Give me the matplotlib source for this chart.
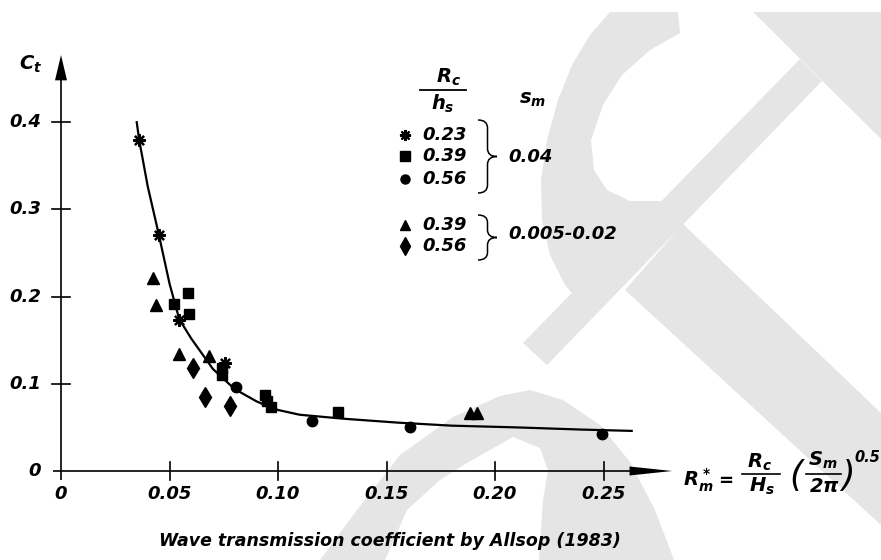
import matplotlib
matplotlib.use("Agg")
import matplotlib.pyplot as plt
from matplotlib.patches import Polygon, PathPatch
from matplotlib.path import Path

plt.rcParams["mathtext.fontset"] = "custom"
plt.rcParams["mathtext.rm"] = "DejaVu Sans:bold:italic"
plt.rcParams["mathtext.it"] = "DejaVu Sans:bold:italic"
plt.rcParams["mathtext.bf"] = "DejaVu Sans:bold:italic"

# ---- data -------------------------------------------------------------
# Rc/hs = 0.23, sm = 0.04
star_x = [0.0361, 0.0451, 0.0544, 0.0758]
star_y = [0.380, 0.271, 0.173, 0.124]
# Rc/hs = 0.39, sm = 0.04
square_x = [0.0522, 0.0587, 0.0591, 0.0740, 0.0742, 0.0940, 0.0950, 0.0966, 0.1278]
square_y = [0.192, 0.204, 0.180, 0.118, 0.110, 0.087, 0.080, 0.073, 0.068]
# Rc/hs = 0.56, sm = 0.04
circle_x = [0.0806, 0.1155, 0.1608, 0.2495]
circle_y = [0.096, 0.057, 0.051, 0.042]
# Rc/hs = 0.39, sm = 0.005-0.02
triangle_x = [0.0425, 0.0438, 0.0545, 0.0684, 0.1885, 0.1918]
triangle_y = [0.221, 0.190, 0.134, 0.132, 0.066, 0.066]
# Rc/hs = 0.56, sm = 0.005-0.02
diamond_x = [0.0610, 0.0664, 0.0779]
diamond_y = [0.118, 0.085, 0.074]

# fitted curve
curve_x = [0.0349, 0.0360, 0.0400, 0.0450, 0.0500, 0.0545, 0.0600, 0.0640,
           0.0700, 0.0800, 0.0900, 0.0950, 0.1000, 0.1100, 0.1300, 0.1550,
           0.1800, 0.2100, 0.2400, 0.2630]
curve_y = [0.400, 0.380, 0.326, 0.272, 0.215, 0.174, 0.152, 0.138,
           0.117, 0.094, 0.080, 0.0745, 0.070, 0.0645, 0.060, 0.0555,
           0.052, 0.050, 0.0475, 0.046]

x_ticks = [0.05, 0.10, 0.15, 0.20, 0.25]
x_tick_labels = ["0.05", "0.10", "0.15", "0.20", "0.25"]
y_ticks = [0.1, 0.2, 0.3, 0.4]
y_tick_labels = ["0.1", "0.2", "0.3", "0.4"]

legend_ratio = ["0.23", "0.39", "0.56", "0.39", "0.56"]
legend_markers = [(8, 2, 0), "s", "o", "^", "d"]
steepness_groups = ["0.04", "0.005-0.02"]

# ---- figure -------------------------------------------------------------
W, H = 881, 560
fig = plt.figure(figsize=(W / 100, H / 100), dpi=100)
fig.patch.set_facecolor("white")

# background emblem, drawn in pixel coordinates
bg = fig.add_axes([0, 0, 1, 1])
bg.set_xlim(0, W)
bg.set_ylim(H, 0)
bg.axis("off")
wm = "#e5e5e5"
emblem = [
    # upper right band
    [(753, 12), (881, 12), (881, 139)],
    # diagonal shank
    [(800, 59), (822, 81), (547, 365), (523, 343)],
    # open ring
    [(610, 12), (590, 35), (572, 65), (558, 100), (547, 140), (541, 180),
     (542, 220), (550, 255), (565, 285), (578, 300), (662, 201),
     (630, 201), (607, 190), (594, 170), (591, 140), (603, 105),
     (622, 75), (650, 50), (680, 33), (678, 12)],
    # lower right arm
    [(683, 224), (881, 413), (881, 525), (625, 290)],
    # arch at the bottom
    [(320, 560), (357, 510), (400, 455), (453, 417), (500, 396),
     (530, 390), (563, 400), (600, 425), (630, 462), (655, 510),
     (674, 560), (539, 560), (543, 500), (548, 470), (540, 448),
     (513, 437), (467, 463), (440, 480), (407, 510), (385, 560)],
]
for s in emblem:
    bg.add_patch(Polygon(s, closed=True, facecolor=wm, edgecolor="none"))

# main layer: data coordinates spread across the whole figure
ax = fig.add_axes([0, 0, 1, 1])
ax.patch.set_alpha(0)
X0, SX = 61.0, 2170.0   # pixel of x=0, pixels per unit
Y0, SY = 471.0, 872.0   # pixel of y=0, pixels per unit
ax.set_xlim(-X0 / SX, (W - X0) / SX)
ax.set_ylim((Y0 - H) / SY, Y0 / SY)
ax.axis("off")


def dx(px):
    return px / SX


def dy(px):
    return px / SY


def P(px, py):
    return (px - X0) / SX, (Y0 - py) / SY


font = dict(family="DejaVu Sans", weight="bold", style="italic", color="black")
lw_axis = 1.2

# axes with arrow heads
ax.plot([dx(-8), 0.262], [0, 0], color="black", lw=lw_axis, solid_capstyle="butt")
ax.fill([0.262, 0.2816, 0.262], [dy(4.5), 0, -dy(4.5)], color="black", lw=0)
ax.plot([0, 0], [-dy(9), 0.45], color="black", lw=lw_axis, solid_capstyle="butt")
ax.fill([-dx(6), 0, dx(6)], [0.448, 0.477, 0.448], color="black", lw=0)

for t, lab in zip(x_ticks, x_tick_labels):
    ax.plot([t, t], [-dy(9), dy(9)], color="black", lw=lw_axis)
    ax.text(t, -dy(23), lab, ha="center", va="center", fontsize=13, **font)
ax.text(0, -dy(23), "0", ha="center", va="center", fontsize=13, **font)
for t, lab in zip(y_ticks, y_tick_labels):
    ax.plot([-dx(9), dx(9)], [t, t], color="black", lw=lw_axis)
    ax.text(-dx(20), t, lab, ha="right", va="center", fontsize=13, **font)
ax.text(-dx(20), 0, "0", ha="right", va="center", fontsize=13, **font)

ax.text(*P(31, 64), r"$C_t$", ha="center", va="center", fontsize=14, **font)

# fitted curve and observations
ax.plot(curve_x, curve_y, color="black", lw=1.6, zorder=3)
ms = dict(color="black", linestyle="none", zorder=4)
ax.plot(star_x, star_y, marker=(8, 2, 0), markersize=9, markeredgewidth=1.6, **ms)
ax.plot(square_x, square_y, marker="s", markersize=7.5, **ms)
ax.plot(circle_x, circle_y, marker="o", markersize=7.5, **ms)
ax.plot(triangle_x, triangle_y, marker="^", markersize=8.5, **ms)
ax.plot(diamond_x, diamond_y, marker="d", markersize=10, **ms)

# legend block: column heads
ax.text(*P(448, 77), r"$R_c$", ha="center", va="center", fontsize=14, **font)
ax.plot(*zip(P(420, 90), P(466, 90)), color="black", lw=1.3)
ax.text(*P(443, 104), r"$h_s$", ha="center", va="center", fontsize=14, **font)
ax.text(*P(519, 100), r"$s_m$", ha="left", va="center", fontsize=14, **font)

rows_y = [135, 156, 179, 225, 246]
marker_kw = [dict(markersize=8, markeredgewidth=1.5), dict(markersize=6.5),
             dict(markersize=6.5), dict(markersize=7.5), dict(markersize=9)]
for yy, mk, kw, lab in zip(rows_y, legend_markers, marker_kw, legend_ratio):
    ax.plot(*P(405, yy), marker=mk, color="black", linestyle="none", **kw)
    ax.text(*P(422, yy), lab, ha="left", va="center", fontsize=13, **font)


def brace(x0, ytop, ybot, w):
    """Right-facing curly brace, pixel inputs, data-space path."""
    ym = (ytop + ybot) / 2
    xm = x0 + w * 0.5
    r = min(8.0, (ybot - ytop) / 6)
    pts = [
        (x0, ytop), (xm, ytop), (xm, ytop + r),
        (xm, ym - r),
        (xm, ym), (x0 + w, ym), (x0 + w, ym),
        (xm, ym), (xm, ym + r),
        (xm, ybot - r),
        (xm, ybot), (x0, ybot),
    ]
    codes = [Path.MOVETO, Path.CURVE3, Path.CURVE3, Path.LINETO,
             Path.CURVE3, Path.CURVE3, Path.MOVETO, Path.CURVE3, Path.CURVE3,
             Path.LINETO, Path.CURVE3, Path.CURVE3]
    return Path([P(*p) for p in pts], codes)


for (yt, yb), lab, ly in zip([(120, 193), (215, 260)], steepness_groups, [157, 234]):
    ax.add_patch(PathPatch(brace(478, yt, yb, 19), facecolor="none",
                           edgecolor="black", lw=1.1))
    ax.text(*P(508, ly), lab, ha="left", va="center", fontsize=13, **font)

# definition of the abscissa: R*_m = Rc/Hs (Sm/2pi)^0.5
fs = 14
ax.text(*P(683, 480), r"$R^*_m$", ha="left", va="center", fontsize=fs, **font)
ax.text(*P(726, 481), "=", ha="center", va="center", fontsize=fs - 1, **font)
ax.text(*P(759, 462), r"$R_c$", ha="center", va="center", fontsize=fs, **font)
ax.plot(*zip(P(742, 474), P(780, 474)), color="black", lw=1.2)
ax.text(*P(762, 486), r"$H_s$", ha="center", va="center", fontsize=fs, **font)
ax.text(*P(796, 476), "(", ha="center", va="center", fontsize=fs + 11,
        family="DejaVu Sans", style="italic", color="black")
ax.text(*P(823, 460), r"$S_m$", ha="center", va="center", fontsize=fs, **font)
ax.plot(*zip(P(806, 474), P(841, 474)), color="black", lw=1.2)
ax.text(*P(824, 486), r"$2\pi$", ha="center", va="center", fontsize=fs, **font)
ax.text(*P(848, 476), ")", ha="center", va="center", fontsize=fs + 11,
        family="DejaVu Sans", style="italic", color="black")
ax.text(*P(867, 457), "0.5", ha="center", va="center", fontsize=10.5, **font)

# caption
ax.text(*P(390, 541), "Wave transmission coefficient by Allsop (1983)",
        ha="center", va="center", fontsize=12.5, **font)

fig.savefig("out.png", dpi=100, facecolor="white")
